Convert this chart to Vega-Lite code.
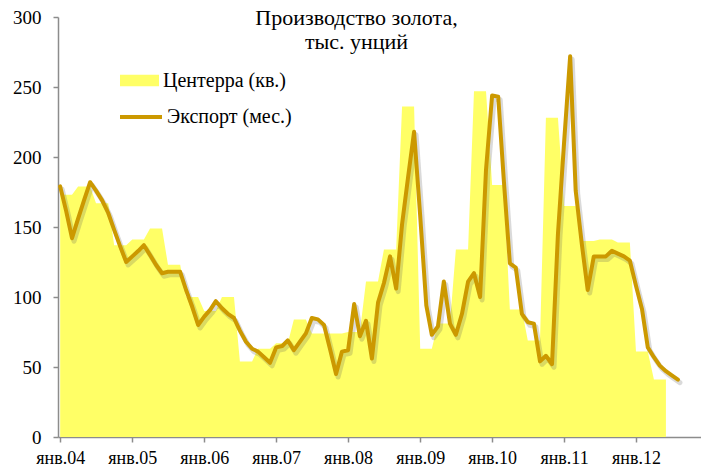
{
  "$schema": "https://vega.github.io/schema/vega-lite/v6.json",
  "width": 643,
  "height": 420,
  "autosize": {"type": "none"},
  "padding": {"left": 58, "top": 17, "right": 0, "bottom": 36},
  "background": "white",
  "title": {
    "text": ["Производство золота,", "тыс. унций"],
    "font": "Liberation Serif",
    "fontSize": 22,
    "fontWeight": "normal",
    "color": "black",
    "anchor": "middle",
    "frame": "group",
    "orient": "top",
    "lineHeight": 24,
    "offset": -46,
    "dx": -23
  },
  "data": {
    "values": [
      {"d": "2004-01-01", "e": 179, "c": 173}, {"d": "2004-02-01", "e": 161, "c": 173}, {"d": "2004-03-01", "e": 142, "c": 173},
      {"d": "2004-04-01", "e": 156, "c": 179}, {"d": "2004-05-01", "e": 169, "c": 179}, {"d": "2004-06-01", "e": 182, "c": 179},
      {"d": "2004-07-01", "e": 176, "c": 167}, {"d": "2004-08-01", "e": 169, "c": 167}, {"d": "2004-09-01", "e": 160, "c": 167},
      {"d": "2004-10-01", "e": 148, "c": 137}, {"d": "2004-11-01", "e": 136, "c": 137}, {"d": "2004-12-01", "e": 125, "c": 137},
      {"d": "2005-01-01", "e": 129, "c": 141}, {"d": "2005-02-01", "e": 133, "c": 141}, {"d": "2005-03-01", "e": 137, "c": 141},
      {"d": "2005-04-01", "e": 130, "c": 149}, {"d": "2005-05-01", "e": 123, "c": 149}, {"d": "2005-06-01", "e": 117, "c": 149},
      {"d": "2005-07-01", "e": 118, "c": 123}, {"d": "2005-08-01", "e": 118, "c": 123}, {"d": "2005-09-01", "e": 118, "c": 123},
      {"d": "2005-10-01", "e": 105, "c": 100}, {"d": "2005-11-01", "e": 93, "c": 100}, {"d": "2005-12-01", "e": 80, "c": 100},
      {"d": "2006-01-01", "e": 86, "c": 90}, {"d": "2006-02-01", "e": 91, "c": 90}, {"d": "2006-03-01", "e": 97, "c": 90},
      {"d": "2006-04-01", "e": 92, "c": 100}, {"d": "2006-05-01", "e": 88, "c": 100}, {"d": "2006-06-01", "e": 85, "c": 100},
      {"d": "2006-07-01", "e": 76, "c": 54}, {"d": "2006-08-01", "e": 68, "c": 54}, {"d": "2006-09-01", "e": 63, "c": 54},
      {"d": "2006-10-01", "e": 61, "c": 63}, {"d": "2006-11-01", "e": 57, "c": 63}, {"d": "2006-12-01", "e": 53, "c": 63},
      {"d": "2007-01-01", "e": 64, "c": 67}, {"d": "2007-02-01", "e": 65, "c": 67}, {"d": "2007-03-01", "e": 69, "c": 67},
      {"d": "2007-04-01", "e": 62, "c": 84}, {"d": "2007-05-01", "e": 68, "c": 84}, {"d": "2007-06-01", "e": 74, "c": 84},
      {"d": "2007-07-01", "e": 85, "c": 74}, {"d": "2007-08-01", "e": 84, "c": 74}, {"d": "2007-09-01", "e": 80, "c": 74},
      {"d": "2007-10-01", "e": 63, "c": 74}, {"d": "2007-11-01", "e": 45, "c": 74}, {"d": "2007-12-01", "e": 61, "c": 74},
      {"d": "2008-01-01", "e": 62, "c": 75}, {"d": "2008-02-01", "e": 95, "c": 75}, {"d": "2008-03-01", "e": 72, "c": 75},
      {"d": "2008-04-01", "e": 83, "c": 111}, {"d": "2008-05-01", "e": 56, "c": 111}, {"d": "2008-06-01", "e": 96, "c": 111},
      {"d": "2008-07-01", "e": 110, "c": 134}, {"d": "2008-08-01", "e": 129, "c": 134}, {"d": "2008-09-01", "e": 106, "c": 134},
      {"d": "2008-10-01", "e": 152, "c": 236}, {"d": "2008-11-01", "e": 186, "c": 236}, {"d": "2008-12-01", "e": 218, "c": 236},
      {"d": "2009-01-01", "e": 158, "c": 63}, {"d": "2009-02-01", "e": 94, "c": 63}, {"d": "2009-03-01", "e": 73, "c": 63},
      {"d": "2009-04-01", "e": 79, "c": 81}, {"d": "2009-05-01", "e": 111, "c": 81}, {"d": "2009-06-01", "e": 81, "c": 81},
      {"d": "2009-07-01", "e": 73, "c": 134}, {"d": "2009-08-01", "e": 88, "c": 134}, {"d": "2009-09-01", "e": 111, "c": 134},
      {"d": "2009-10-01", "e": 117, "c": 247}, {"d": "2009-11-01", "e": 100, "c": 247}, {"d": "2009-12-01", "e": 191, "c": 247},
      {"d": "2010-01-01", "e": 244, "c": 180}, {"d": "2010-02-01", "e": 243, "c": 180}, {"d": "2010-03-01", "e": 184, "c": 180},
      {"d": "2010-04-01", "e": 124, "c": 91}, {"d": "2010-05-01", "e": 121, "c": 91}, {"d": "2010-06-01", "e": 88, "c": 91},
      {"d": "2010-07-01", "e": 82, "c": 69}, {"d": "2010-08-01", "e": 81, "c": 69}, {"d": "2010-09-01", "e": 54, "c": 69},
      {"d": "2010-10-01", "e": 58, "c": 228}, {"d": "2010-11-01", "e": 52, "c": 228}, {"d": "2010-12-01", "e": 145, "c": 228},
      {"d": "2011-01-01", "e": 210, "c": 165}, {"d": "2011-02-01", "e": 272, "c": 165}, {"d": "2011-03-01", "e": 176, "c": 165},
      {"d": "2011-04-01", "e": 138, "c": 140}, {"d": "2011-05-01", "e": 105, "c": 140}, {"d": "2011-06-01", "e": 129, "c": 140},
      {"d": "2011-07-01", "e": 129, "c": 141}, {"d": "2011-08-01", "e": 129, "c": 141}, {"d": "2011-09-01", "e": 133, "c": 141},
      {"d": "2011-10-01", "e": 131, "c": 139}, {"d": "2011-11-01", "e": 129, "c": 139}, {"d": "2011-12-01", "e": 126, "c": 139},
      {"d": "2012-01-01", "e": 108, "c": 61}, {"d": "2012-02-01", "e": 91, "c": 61}, {"d": "2012-03-01", "e": 64, "c": 61},
      {"d": "2012-04-01", "e": 57, "c": 41}, {"d": "2012-05-01", "e": 51, "c": 41}, {"d": "2012-06-01", "e": 47, "c": 41},
      {"d": "2012-07-01", "e": 44, "c": null}, {"d": "2012-08-01", "e": 41, "c": null}
    ]
  },
  "encoding": {
    "x": {
      "field": "d",
      "type": "temporal",
      "scale": {
        "type": "utc",
        "domain": [
          {"year": 2003, "month": 12, "date": 21, "utc": true},
          {"year": 2012, "month": 11, "date": 26, "utc": true}
        ]
      },
      "axis": {
        "title": null,
        "grid": false,
        "values": [
          {"year": 2004, "month": 1, "date": 1, "utc": true},
          {"year": 2005, "month": 1, "date": 1, "utc": true},
          {"year": 2006, "month": 1, "date": 1, "utc": true},
          {"year": 2007, "month": 1, "date": 1, "utc": true},
          {"year": 2008, "month": 1, "date": 1, "utc": true},
          {"year": 2009, "month": 1, "date": 1, "utc": true},
          {"year": 2010, "month": 1, "date": 1, "utc": true},
          {"year": 2011, "month": 1, "date": 1, "utc": true},
          {"year": 2012, "month": 1, "date": 1, "utc": true}
        ],
        "labelExpr": "'янв.' + utcFormat(datum.value, '%y')",
        "labelFont": "Liberation Serif",
        "labelFontSize": 18,
        "labelColor": "black",
        "labelPadding": 7,
        "labelFlush": false,
        "labelOverlap": false,
        "tickSize": 5,
        "tickColor": "#8c8c8c",
        "domainColor": "#8c8c8c",
        "domainWidth": 1.5,
        "tickWidth": 1.5
      }
    }
  },
  "layer": [
    {
      "mark": {"type": "area", "interpolate": "linear"},
      "encoding": {
        "y": {
          "field": "c",
          "type": "quantitative",
          "scale": {"domain": [0, 300], "nice": false},
          "axis": {
            "title": null,
            "grid": false,
            "values": [0, 50, 100, 150, 200, 250, 300],
            "labelFont": "Liberation Serif",
            "labelFontSize": 19,
            "labelColor": "black",
            "labelPadding": 12,
            "tickSize": 5,
            "tickColor": "#8c8c8c",
            "domainColor": "#8c8c8c",
            "domainWidth": 1.5,
            "tickWidth": 1.5
          }
        },
        "fill": {
          "datum": "Центерра (кв.)",
          "scale": {"range": ["#FFFF66"]},
          "legend": {
            "orient": "none",
            "legendX": 62,
            "legendY": 44,
            "title": null,
            "padding": 0,
            "symbolType": "M-1,-0.3H1V0.3H-1Z",
            "symbolSize": 1521,
            "symbolStrokeWidth": 0,
            "symbolOpacity": 1,
            "labelFont": "Liberation Serif",
            "labelFontSize": 20,
            "labelColor": "black",
            "labelOffset": 4
          }
        }
      }
    },
    {
      "mark": {"type": "line", "strokeWidth": 5, "strokeJoin": "round", "strokeCap": "round", "color": "#555555", "opacity": 0.22, "xOffset": 2, "yOffset": 3},
      "encoding": {
        "y": {"field": "e", "type": "quantitative"}
      }
    },
    {
      "mark": {"type": "line", "strokeWidth": 4, "strokeJoin": "round", "strokeCap": "round"},
      "encoding": {
        "y": {"field": "e", "type": "quantitative"},
        "stroke": {
          "datum": "Экспорт (мес.)",
          "scale": {"range": ["#CC9900"]},
          "legend": {
            "orient": "none",
            "legendX": 60,
            "legendY": 77,
            "title": null,
            "padding": 0,
            "symbolType": "stroke",
            "symbolSize": 1764,
            "symbolStrokeWidth": 4,
            "labelFont": "Liberation Serif",
            "labelFontSize": 20,
            "labelColor": "black",
            "labelOffset": 3
          }
        }
      }
    }
  ],
  "resolve": {"scale": {"y": "shared"}},
  "config": {"view": {"stroke": null}, "font": "Liberation Serif"}
}
